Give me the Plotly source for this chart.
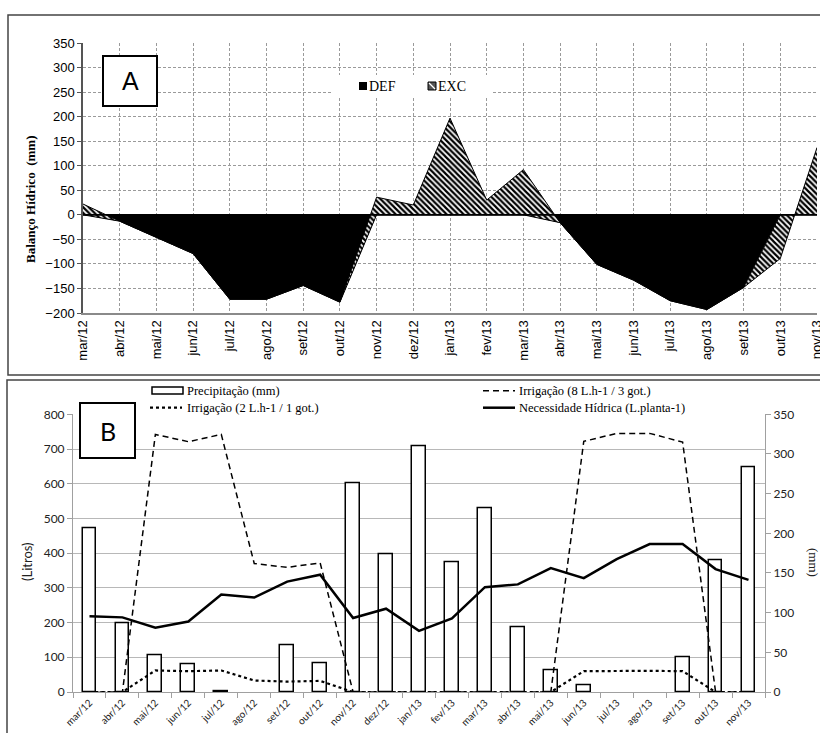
import plotly.graph_objects as go

W, H = 820, 733

months = ["mar/12", "abr/12", "mai/12", "jun/12", "jul/12", "ago/12", "set/12", "out/12",
          "nov/12", "dez/12", "jan/13", "fev/13", "mar/13", "abr/13", "mai/13", "jun/13",
          "jul/13", "ago/13", "set/13", "out/13", "nov/13"]

# Panel A - water balance (mm)
deficit = [0, -13, -46, -79, -172, -172, -144, -178, 0, 0, 0, 0, 0, -16, -101, -133,
           -175, -193, -148, 0, 0]
balance = [22, -13, -46, -79, -172, -172, -144, -178, 36, 20, 197, 30, 92, -16, -101, -133,
           -175, -193, -148, -89, 137]
balance_ticks = [-200, -150, -100, -50, 0, 50, 100, 150, 200, 250, 300, 350]

# Panel B
precip_mm = [206, 86, 46, 35, 1.5, 0, 59, 36, 263, 174, 310, 163, 231, 81, 27, 9, 0, 0, 44, 166, 283]
irrig_8 = [0, 0, 742, 721, 742, 370, 359, 372, 0, 0, 0, 0, 0, 0, 0, 722, 745, 745, 720, 0, 0]
irrig_2 = [0, 0, 62, 60, 62, 33, 30, 32, 0, 0, 0, 0, 0, 0, 0, 60, 61, 61, 60, 0, 0]
need = [218, 215, 185, 203, 281, 272, 318, 338, 213, 240, 176, 212, 302, 310, 357, 328,
        383, 426, 426, 354, 323]

name_precip = "Precipitação (mm)"
name_irr8 = "Irrigação (8 L.h-1 / 3 got.)"
name_irr2 = "Irrigação (2 L.h-1 / 1 got.)"
name_need = "Necessidade Hídrica (L.planta-1)"


def X(px):
    return px / W


def Y(py):
    return 1 - py / H


fig = go.Figure()

# ---- Panel A ----
fig.add_trace(go.Scatter(x=months, y=deficit, xaxis="x", yaxis="y", mode="lines",
                         line=dict(color="black", width=1), fill="tozeroy",
                         fillcolor="black", name="DEF", showlegend=False))
fig.add_trace(go.Scatter(x=months, y=balance, xaxis="x", yaxis="y", mode="lines",
                         line=dict(color="black", width=1), fill="tonexty",
                         fillcolor="white",
                         fillpattern=dict(shape="\\", fgcolor="black", bgcolor="white",
                                          size=4, solidity=0.55),
                         name="EXC", showlegend=False))

# ---- Panel B ----
dash8 = "6px,4px"
fig.add_trace(go.Bar(x=months, y=[v if v > 0 else None for v in precip_mm],
                     xaxis="x2", yaxis="y2", width=0.42,
                     marker=dict(color="white", line=dict(color="black", width=1.5)),
                     name=name_precip, showlegend=False))
fig.add_trace(go.Scatter(x=months, y=irrig_8, xaxis="x2", yaxis="y3", mode="lines",
                         line=dict(color="black", width=1.5, dash=dash8),
                         name=name_irr8, showlegend=False))
fig.add_trace(go.Scatter(x=months, y=irrig_2, xaxis="x2", yaxis="y3", mode="lines",
                         line=dict(color="black", width=2.2, dash="dot"),
                         name=name_irr2, showlegend=False))
fig.add_trace(go.Scatter(x=months, y=need, xaxis="x2", yaxis="y3", mode="lines",
                         line=dict(color="black", width=2.5),
                         name=name_need, showlegend=False))

gridA = dict(showgrid=True, gridcolor="#9a9a9a", gridwidth=1, griddash="3px,2px")

fig.update_layout(
    template="none",
    width=W, height=H, margin=dict(l=0, r=0, t=0, b=0, pad=0, autoexpand=False),
    paper_bgcolor="white", plot_bgcolor="white",
    bargap=0, showlegend=False,
    xaxis=dict(domain=[X(83), X(817)], anchor="y", type="category", automargin=False,
               range=[0, len(months) - 1], tickangle=-90,
               tickfont=dict(family="Liberation Sans", size=13, color="black"),
               showline=True, linecolor="#8a8a8a", linewidth=2,
               ticks="", **gridA),
    yaxis=dict(domain=[Y(313), Y(43)], anchor="x", range=[-200, 350], automargin=False,
               tickvals=balance_ticks,
               tickfont=dict(family="Liberation Sans", size=13, color="black"),
               showline=True, linecolor="#555", linewidth=1.5,
               ticks="outside", ticklen=4, tickcolor="#555",
               zeroline=False, **gridA),
    xaxis2=dict(domain=[X(73), X(765)], anchor="y2", type="category", automargin=False,
                range=[-0.5, len(months) - 0.5], tickangle=-45,
                tickfont=dict(family="Lato", size=10, color="#222"),
                showline=True, linecolor="#a0a0a0", linewidth=1,
                ticks="outside", tickson="boundaries", ticklen=5, tickcolor="#a0a0a0",
                showgrid=False, zeroline=False),
    yaxis2=dict(domain=[Y(692), Y(414.3)], anchor="x2", side="right", range=[0, 350],
                automargin=False,
                dtick=50, tickfont=dict(family="Lato", size=12, color="#222"),
                showline=True, linecolor="#a0a0a0", ticks="outside", ticklen=5,
                tickcolor="#a0a0a0", showgrid=False, zeroline=False),
    yaxis3=dict(overlaying="y2", anchor="x2", side="left", range=[0, 800], dtick=100,
                automargin=False,
                tickfont=dict(family="Lato", size=12, color="#222"),
                showline=True, linecolor="#a0a0a0", ticks="outside", ticklen=5,
                tickcolor="#a0a0a0", showgrid=True, gridcolor="#b8b8b8", gridwidth=1,
                zeroline=False),
)


def prect(x0, y0, x1, y1, **kw):
    return dict(type="rect", xref="paper", yref="paper", x0=X(x0), x1=X(x1),
                y0=Y(y1), y1=Y(y0), layer="above", **kw)


def pline(x0, y0, x1, y1, **kw):
    return dict(type="line", xref="paper", yref="paper", x0=X(x0), x1=X(x1),
                y0=Y(y0), y1=Y(y1), layer="above", **kw)


shapes = [
    # panel borders
    prect(8, 15, 840, 375, line=dict(color="#444", width=1.5)),
    prect(7, 380, 840, 745, line=dict(color="#444", width=1.5)),
    # zero line panel A
    dict(type="line", xref="x domain", yref="y", x0=0, x1=1, y0=0, y1=0,
         line=dict(color="black", width=1.8), layer="above"),
    # "A" box
    prect(103, 56, 157, 106, fillcolor="white", line=dict(color="black", width=2)),
    # legend A
    prect(332, 75, 493, 98, fillcolor="white", line=dict(width=0)),
    prect(359, 82, 367, 90, fillcolor="black", line=dict(width=0)),
    prect(428, 82, 436, 90, fillcolor="#555", line=dict(color="black", width=1)),
    pline(429, 83, 435, 89, line=dict(color="white", width=1.2)),
    # "B" box
    prect(80, 403, 135, 458, fillcolor="white", line=dict(color="black", width=2)),
    # legend B symbols
    prect(152, 387, 183, 394, fillcolor="white", line=dict(color="black", width=1.5)),
    pline(150, 407.7, 182, 407.7, line=dict(color="black", width=2.2, dash="dot")),
    pline(483, 390.7, 515, 390.7, line=dict(color="black", width=1.5, dash=dash8)),
    pline(483, 407.7, 515, 407.7, line=dict(color="black", width=2.5)),
]


def ann(text, px, py, size, family, angle=0, color="black", xanchor="center"):
    return dict(text=text, x=X(px), y=Y(py), xref="paper", yref="paper", showarrow=False,
                xanchor=xanchor, yanchor="middle", textangle=angle,
                font=dict(family=family, size=size, color=color))


legend_font = "Liberation Serif"
annotations = [
    ann("A", 130, 81, 25, "Liberation Sans"),
    ann("DEF", 367, 86.5, 14, "Liberation Serif", xanchor="left"),
    ann("EXC", 436, 86.5, 14, "Liberation Serif", xanchor="left"),
    ann("<b>Balanço Hídrico  (mm)</b>", 30, 200, 13, "Liberation Serif", angle=-90),
    ann("B", 107.5, 430.5, 25, "Lato"),
    ann("(Litros)", 27, 562, 13, "Lato", angle=-90, color="#222"),
    ann("(mm)", 814, 562, 13, "Liberation Serif", angle=90, color="#222"),
    ann(name_precip, 185, 390.7, 12.5, legend_font, xanchor="left"),
    ann(name_irr2, 185, 407.7, 12.5, legend_font, xanchor="left"),
    ann(name_irr8, 517, 390.7, 12.5, legend_font, xanchor="left"),
    ann(name_need, 517, 407.7, 12.5, legend_font, xanchor="left"),
]

fig.update_layout(shapes=shapes, annotations=annotations)

fig.write_html("out.html", config={"displayModeBar": False})

# remove default page margins so the figure sits at the window origin
with open("out.html", "r", encoding="utf-8") as f:
    html = f.read()
html = html.replace("<head>", "<head><style>html,body{margin:0;padding:0;overflow:hidden;}</style>", 1)
with open("out.html", "w", encoding="utf-8") as f:
    f.write(html)
